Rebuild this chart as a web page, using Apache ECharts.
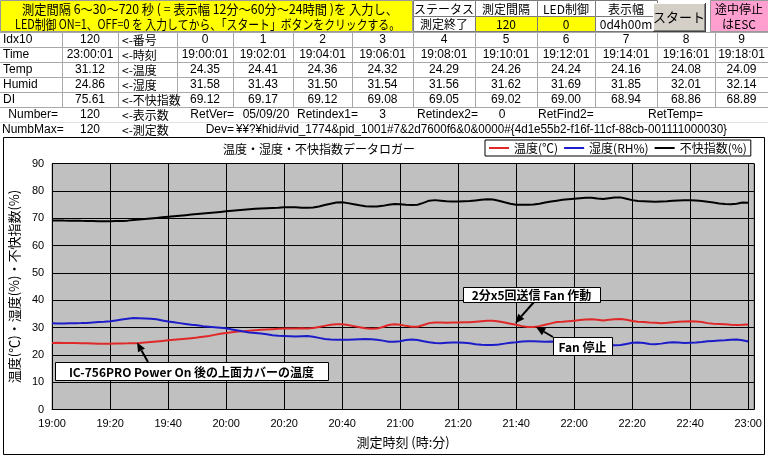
<!DOCTYPE html>
<html><head><meta charset="utf-8">
<script src="https://cdn.jsdelivr.net/npm/echarts@6/dist/echarts.min.js"></script>
<style>html,body{margin:0;padding:0;background:#fff;}#c{width:768px;height:457px;}</style>
</head><body><div id="c"></div>
<script>
// ---------------- data ----------------
const stepMinutes = 2;
const xTickLabels = ['19:00','19:20','19:40','20:00','20:20','20:40','21:00','21:20','21:40','22:00','22:20','22:40','23:00'];
const seriesNames = ['温度(℃)','湿度(RH%)','不快指数(%)'];
const chartTitle = '温度・湿度・不快指数データロガー';
const xAxisName = '測定時刻 (時:分)';
const yAxisName = '温度(℃)・湿度(%)・不快指数(%)';

const temp = [
24.35,24.41,24.36,24.32,24.29,24.26,24.24,24.16,24.08,24.09,
24.10,24.14,24.18,24.20,24.24,24.30,24.50,24.70,24.90,25.10,
25.30,25.50,25.70,25.90,26.10,26.30,26.60,26.90,27.30,27.70,
28.00,28.30,28.50,28.60,28.80,29.00,29.20,29.30,29.40,29.50,
29.60,29.60,29.60,29.70,29.60,29.80,30.20,30.60,31.00,31.20,
31.20,30.90,30.50,30.10,29.70,29.50,29.60,30.20,30.90,31.20,
31.00,30.60,30.30,30.30,30.90,31.60,31.80,31.80,31.70,31.80,
31.80,31.90,31.90,32.10,32.30,32.50,32.50,32.20,31.80,31.40,
31.00,30.50,30.20,30.20,30.50,31.00,31.50,32.00,32.10,32.30,
32.50,32.70,32.90,33.00,32.80,32.60,32.80,33.00,33.10,32.80,
32.40,32.10,32.00,31.80,31.70,31.60,31.70,31.90,32.10,32.20,
32.30,32.20,32.00,31.60,31.40,31.30,31.20,31.00,30.90,31.00,
31.12];
const humid = [
31.58,31.43,31.50,31.54,31.56,31.62,31.69,31.85,32.01,32.14,
32.30,32.60,32.90,33.20,33.50,33.40,33.30,33.20,33.00,32.60,
32.20,31.90,31.60,31.30,31.00,30.80,30.50,30.30,30.10,29.90,
29.70,29.30,28.90,28.50,28.20,28.00,27.80,27.50,27.20,27.00,
26.90,26.80,26.70,26.80,26.90,26.60,26.20,25.80,25.60,25.50,
25.50,25.50,25.60,25.70,25.80,25.70,25.50,25.20,24.80,24.80,
25.00,25.40,25.60,25.40,25.00,24.60,24.30,24.20,24.40,24.50,
24.50,24.40,24.20,23.90,23.70,23.60,23.60,23.80,24.10,24.40,
24.60,24.90,25.00,25.00,24.90,24.80,24.90,24.80,24.60,24.50,
24.30,24.20,24.00,23.80,23.70,23.70,23.60,23.50,23.60,24.00,
24.40,24.50,24.30,24.00,23.90,24.10,24.40,24.60,24.50,24.30,
24.40,24.50,24.70,25.00,25.10,25.20,25.30,25.50,25.60,25.30,
24.86];
const di = [
69.12,69.17,69.12,69.08,69.05,69.02,69.00,68.94,68.86,68.89,
68.90,68.95,69.00,69.10,69.30,69.50,69.70,69.90,70.10,70.30,
70.50,70.70,70.90,71.10,71.30,71.50,71.70,71.90,72.10,72.30,
72.50,72.70,72.90,73.10,73.30,73.40,73.50,73.60,73.70,73.80,
74.00,74.00,74.00,73.80,73.80,73.90,74.30,74.80,75.30,75.70,
75.80,75.50,75.10,74.70,74.40,74.30,74.30,74.50,74.90,75.20,
75.10,74.90,74.80,74.90,75.60,76.40,76.60,76.40,76.20,76.10,
76.10,76.20,76.30,76.50,76.70,76.90,76.80,76.40,75.80,75.30,
74.90,74.90,74.90,75.00,75.30,75.70,76.10,76.40,76.70,76.90,
77.10,77.30,77.50,77.50,77.20,77.00,77.30,77.60,77.60,77.10,
76.60,76.30,76.20,76.10,76.00,76.10,76.20,76.40,76.50,76.60,
76.60,76.50,76.30,76.00,75.70,75.40,75.20,75.10,75.30,75.70,
75.61];

// spreadsheet texts
const headerLine1 = '測定間隔 6～30～720 秒 ( = 表示幅 12分～60分～24時間 )を 入力し、';
const headerLine2 = 'LED制御 ON=1、OFF=0 を 入力してから、「スタート」ボタンをクリックする。';
const statusLabels = ['ステータス','測定間隔','LED制御','表示幅'];
const statusValues = ['測定終了','120','0','0d4h00m'];
const startButtonText = 'スタート';
const escText = ['途中停止','はESC'];
const rowNames = ['Idx10','Time','Temp','Humid','DI'];
const rowLatest = ['120','23:00:01','31.12','24.86','75.61'];
const rowHints = ['<-番号','<-時刻','<-温度','<-湿度','<-不快指数'];
const firstIdx = ['0','1','2','3','4','5','6','7','8','9'];
const firstTimes = ['19:00:01','19:02:01','19:04:01','19:06:01','19:08:01','19:10:01','19:12:01','19:14:01','19:16:01','19:18:01'];
const numberRow = ['Number=','120','<-表示数','RetVer=','05/09/20','Retindex1=','3','Retindex2=','0','RetFind2=','RetTemp='];
const numbMaxRow = ['NumbMax=','120','<-測定数','Dev=','¥¥?¥hid#vid_1774&pid_1001#7&2d7600f6&0&0000#{4d1e55b2-f16f-11cf-88cb-001111000030}'];

const annotations = [
  {text:'IC-756PRO Power On 後の上面カバーの温度', tip:[29.3,24.5]},
  {text:'2分x5回送信 Fan 作動', tip:[159.7,31.6]},
  {text:'Fan 停止', tip:[166.9,30.1]}
];

// ---------------- layout ----------------
const FONT = '"Liberation Sans","Noto Sans CJK JP",sans-serif';
const JFONT = '"Noto Sans CJK JP","Liberation Sans",sans-serif';
const colX = [0, 62, 118, 177, 233, 293, 352, 413, 475, 537, 595, 657, 715, 768];
const rowY = [32, 47, 62, 77, 92, 107, 122, 137];

const measureCtx = document.createElement('canvas').getContext('2d');
function fitScale(s, font, target){ measureCtx.font = font; const w = measureCtx.measureText(s).width; return w > 0 ? target / w : 1; }

const G = [];
function rect(x,y,w,h,fill,stroke,z){ G.push({type:'rect', z:z||-5, silent:true, shape:{x:x,y:y,width:w,height:h}, style:{fill:fill, stroke:stroke||null, lineWidth:1}}); }
function hline(x1,x2,y,c){ G.push({type:'line', z:-4, silent:true, shape:{x1:x1,y1:y+0.5,x2:x2,y2:y+0.5}, style:{stroke:c,lineWidth:1}}); }
function vline(x,y1,y2,c){ G.push({type:'line', z:-4, silent:true, shape:{x1:x+0.5,y1:y1,x2:x+0.5,y2:y2}, style:{stroke:c,lineWidth:1}}); }
function txt(s,x,y,align,font,opts){
  const el = {type:'text', z:-3, silent:true, x:x, y:y, style:{text:s, font:font||('12px '+FONT), fill:'#000', textAlign:align, align:align, textVerticalAlign:'middle', verticalAlign:'middle'}};
  if (opts) Object.assign(el, opts);
  G.push(el);
}
const cx = c => (colX[c] + colX[c+1]) / 2;

// header yellow merged cell
rect(0.5,0.5,412,31,'#ffff00','#9a9a9a');
const hf = '13px ' + JFONT;
txt(headerLine1, 22, 9, 'left', hf, {scaleX: fitScale(headerLine1, hf, 376)});
txt(headerLine2, 15, 24, 'left', hf, {scaleX: fitScale(headerLine2, hf, 385)});
// status cells
for (let k = 0; k < 4; k++) {
  const c = 7 + k, w = colX[c+1] - colX[c];
  rect(colX[c]+0.5, 0.5, w, 16, '#ffffff', '#7a7a7a');
  rect(colX[c]+0.5, 16.5, w, 15, (k === 1 || k === 2) ? '#ffff00' : '#ffffff', '#7a7a7a');
  txt(statusLabels[k], cx(c), 9, 'center', '12px ' + JFONT);
  txt(statusValues[k], cx(c), 24, 'center', '12px ' + JFONT);
}
// start button
rect(653.5, 3.5, 52, 28, '#d4d0c8', null);
hline(653, 706, 3, '#ffffff'); vline(653, 3, 32, '#ffffff');
hline(653, 706, 31, '#404040'); vline(705, 3, 32, '#404040');
hline(654, 705, 30, '#808080'); vline(704, 4, 31, '#808080');
txt(startButtonText, 679, 17, 'center', '13px ' + JFONT);
// ESC pink
rect(710.5, 0.5, 58, 31, '#ff9fd0', '#9a9a9a');
txt(escText[0], 739, 9, 'center', '12px ' + JFONT);
txt(escText[1], 739, 24, 'center', '12px ' + JFONT);

// data rows grid
for (let r = 0; r <= 5; r++) hline(0, 768, rowY[r], '#a8a8a8');
for (let c = 1; c < colX.length - 1; c++) vline(colX[c], rowY[0], rowY[5], '#a8a8a8');
hline(0, 768, rowY[6], '#e0e0e0');

const rowVals = [
  firstIdx,
  firstTimes,
  temp.slice(0,10).map(v => v.toFixed(2)),
  humid.slice(0,10).map(v => v.toFixed(2)),
  di.slice(0,10).map(v => v.toFixed(2))
];
for (let r = 0; r < 5; r++) {
  const y = rowY[r] + 8;
  txt(rowNames[r], 3, y, 'left');
  txt(rowLatest[r], cx(1), y, 'center');
  txt(rowHints[r], colX[2] + 4, y, 'left', '12px ' + JFONT);
  for (let i = 0; i < 10; i++) txt(rowVals[r][i], cx(3+i), y, 'center');
}
// Number row
let y6 = rowY[5] + 8;
txt(numberRow[0], 58, y6, 'right');
txt(numberRow[1], cx(1), y6, 'center');
txt(numberRow[2], colX[2] + 4, y6, 'left', '12px ' + JFONT);
txt(numberRow[3], 234, y6, 'right');
txt(numberRow[4], 266, y6, 'center');
txt(numberRow[5], 297, y6, 'left');
txt(numberRow[6], cx(6), y6, 'center');
txt(numberRow[7], 417, y6, 'left');
txt(numberRow[8], 502, y6, 'center');
txt(numberRow[9], 538, y6, 'left');
txt(numberRow[10], 648, y6, 'left');
// NumbMax row
let y7 = rowY[6] + 8;
txt(numbMaxRow[0], 2, y7, 'left');
txt(numbMaxRow[1], cx(1), y7, 'center');
txt(numbMaxRow[2], colX[2] + 4, y7, 'left', '12px ' + JFONT);
txt(numbMaxRow[3], 234, y7, 'right');
const devFont = '12px ' + FONT;
txt(numbMaxRow[4], 236, y7, 'left', devFont, {scaleX: fitScale(numbMaxRow[4], devFont, 491)});

// chart frame
rect(3.5, 137.5, 761, 317, '#ffffff', '#000000', -6);

// ---------------- chart ----------------
const toPairs = arr => arr.map((v, i) => [i * stepMinutes, v]);
const chart = echarts.init(document.getElementById('c'), null, {renderer:'canvas'});
const colors = ['#e02828', '#1c1cc8', '#000000'];
chart.setOption({
  animation: false,
  textStyle: {fontFamily: FONT},
  title: {text: chartTitle, left: 319, textAlign: 'center', top: 143, padding: 0,
          textStyle: {fontSize: 12, fontWeight: 'normal', color: '#000', fontFamily: JFONT}},
  legend: {
    data: seriesNames, left: 485, top: 140, padding: [2, 4, 2, 4], itemGap: 6,
    icon: 'rect', itemWidth: 20, itemHeight: 2,
    borderColor: '#000', borderWidth: 1, backgroundColor: '#fff',
    textStyle: {fontSize: 12, color: '#000', fontFamily: JFONT}
  },
  grid: {left: 49.5, right: 14, top: 163.5, bottom: 47.5, show: true,
         backgroundColor: '#c0c0c0', borderColor: '#808080', borderWidth: 1},
  xAxis: {
    type: 'value', min: 0, max: 242, interval: 20,
    name: xAxisName, nameLocation: 'middle', nameGap: 26,
    nameTextStyle: {fontSize: 13, color: '#000', fontFamily: JFONT},
    axisLine: {show: true, lineStyle: {color: '#000', width: 1}},
    axisTick: {show: false},
    axisLabel: {fontSize: 11, color: '#000', margin: 9,
                formatter: v => (v % 20 === 0 && xTickLabels[v / 20] !== undefined) ? xTickLabels[v / 20] : ''},
    splitLine: {show: true, lineStyle: {color: '#000', width: 1}}
  },
  yAxis: {
    type: 'value', min: 0, max: 90, interval: 10,
    name: yAxisName, nameLocation: 'middle', nameGap: 26, nameRotate: 90,
    nameTextStyle: {fontSize: 13, color: '#000', fontFamily: JFONT},
    axisLine: {show: true, lineStyle: {color: '#000', width: 1}},
    axisTick: {show: false},
    axisLabel: {fontSize: 11, color: '#000', margin: 8},
    splitLine: {show: true, lineStyle: {color: '#000', width: 1}}
  },
  series: [
    {name: seriesNames[0], type: 'line', data: toPairs(temp), showSymbol: false, symbol: 'none', color: colors[0], lineStyle: {width: 2, color: colors[0]}},
    {name: seriesNames[1], type: 'line', data: toPairs(humid), showSymbol: false, symbol: 'none', color: colors[1], lineStyle: {width: 2, color: colors[1]}},
    {name: seriesNames[2], type: 'line', data: toPairs(di), showSymbol: false, symbol: 'none', color: colors[2], lineStyle: {width: 2, color: colors[2]}}
  ],
  graphic: {elements: G}
});

// ---------------- annotations ----------------
const boxes = [
  {x: 55, y: 362, w: 273, h: 18, tail: [148, 362]},
  {x: 463, y: 287, w: 137, h: 15, tail: [534, 302]},
  {x: 553, y: 337, w: 59, h: 18, tail: [553, 337]}
];
const A = [];
const bf = 'bold 12px ' + JFONT;
annotations.forEach((a, i) => {
  const b = boxes[i];
  const tip = chart.convertToPixel({gridIndex: 0}, a.tip);
  const t = b.tail;
  const dx = tip[0] - t[0], dy = tip[1] - t[1], L = Math.sqrt(dx*dx + dy*dy);
  const ux = dx / L, uy = dy / L, hl = 9, hw = 4;
  const bx = tip[0] - ux * hl, by = tip[1] - uy * hl;
  A.push({type:'line', z:50, silent:true, shape:{x1:t[0], y1:t[1], x2:bx, y2:by}, style:{stroke:'#000', lineWidth:2}});
  A.push({type:'polygon', z:50, silent:true, shape:{points:[[tip[0], tip[1]], [bx - uy*hw, by + ux*hw], [bx + uy*hw, by - ux*hw]]}, style:{fill:'#000'}});
  A.push({type:'rect', z:51, silent:true, shape:{x:b.x + 0.5, y:b.y + 0.5, width:b.w, height:b.h}, style:{fill:'#fff', stroke:'#000', lineWidth:1}});
  const sc = Math.min(1, fitScale(a.text, bf, b.w - 8));
  A.push({type:'text', z:52, silent:true, x:b.x + b.w/2, y:b.y + b.h/2 + 1, scaleX: sc,
          style:{text:a.text, font:bf, fill:'#000', textAlign:'center', align:'center', textVerticalAlign:'middle', verticalAlign:'middle'}});
});
chart.setOption({graphic: {elements: G.concat(A)}});
</script>
</body></html>
